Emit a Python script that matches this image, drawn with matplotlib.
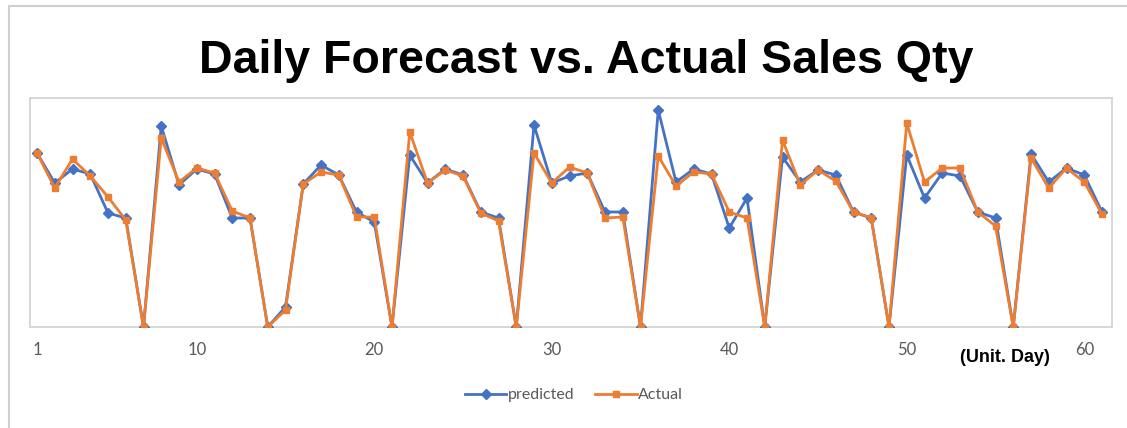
import numpy as np
import matplotlib
matplotlib.use("Agg")
import matplotlib.pyplot as plt
from matplotlib.patches import Rectangle

# Datos (unidades arbitrarias, eje y sin etiquetas)
dias = list(range(1, 62))
predicted = [174, 144, 158, 153, 114, 109, 0, 201, 142, 158, 153, 109, 109, 0,
             20, 143, 162, 152, 115, 105, 0, 172, 144, 158, 152, 115, 109, 0,
             202, 144, 151, 154, 115, 115, 0, 217, 145, 158, 153, 99, 129, 0,
             170, 145, 157, 152, 115, 109, 0, 172, 129, 154, 151, 115, 109, 0,
             173, 145, 159, 152, 115]
actual = [174, 139, 168, 151, 130, 107, 0, 189, 145, 159, 154, 116, 109, 0,
          17, 143, 155, 152, 110, 110, 0, 195, 144, 157, 151, 114, 106, 0,
          174, 144, 160, 154, 109, 110, 0, 171, 141, 155, 153, 115, 109, 0,
          187, 142, 157, 146, 115, 109, 0, 204, 145, 159, 159, 115, 101, 0,
          169, 139, 159, 145, 113]
ticks = [1, 10, 20, 30, 40, 50, 60]

W, H = 1127, 428
fig = plt.figure(figsize=(W / 100, H / 100), dpi=100)
fig.patch.set_facecolor("white")

# borde exterior del area del grafico
fig.patches.append(Rectangle((9 / W, -0.1), 1.2, 1.1 - 6 / H, transform=fig.transFigure,
                             fill=False, edgecolor="#cfcfcf", linewidth=1.5))

ax = fig.add_axes([30 / W, 1 - 327 / H, (1112 - 30) / W, (327 - 98) / H])
ax.plot(dias, predicted, color="#4472C4", lw=2.0, marker="D", ms=5, label="predicted", zorder=3)
ax.plot(dias, actual, color="#ED7D31", lw=2.0, marker="s", ms=5, label="Actual", zorder=4)

ax.set_xlim(1 - 7 / 17.75, 61 + 10 / 17.75)
ax.set_ylim(0, 229)
ax.set_yticks([])
ax.set_xticks(ticks)
ax.set_xticklabels([str(t) for t in ticks], fontsize=12, color="#595959", family="Lato")
ax.tick_params(axis="x", length=0, pad=11)
for s in ax.spines.values():
    s.set_color("#d4d4d4")
    s.set_linewidth(1.3)

fig.text(586 / W, 1 - 61 / H, "Daily Forecast vs. Actual Sales Qty", ha="center", va="center",
         fontsize=33.5, fontweight="bold", family="Liberation Sans")
fig.text(1005 / W, 1 - 357 / H, "(Unit. Day)", ha="center", va="center",
         fontsize=13, fontweight="bold", family="Liberation Sans")

leg = fig.legend(loc="center", bbox_to_anchor=(574 / W, 1 - 395 / H), ncol=2, frameon=False,
                 prop={"family": "Lato", "size": 11.5}, handlelength=2.6, columnspacing=1.3,
                 handletextpad=0.1)
for t in leg.get_texts():
    t.set_color("#595959")

fig.savefig("out.png", dpi=100)
